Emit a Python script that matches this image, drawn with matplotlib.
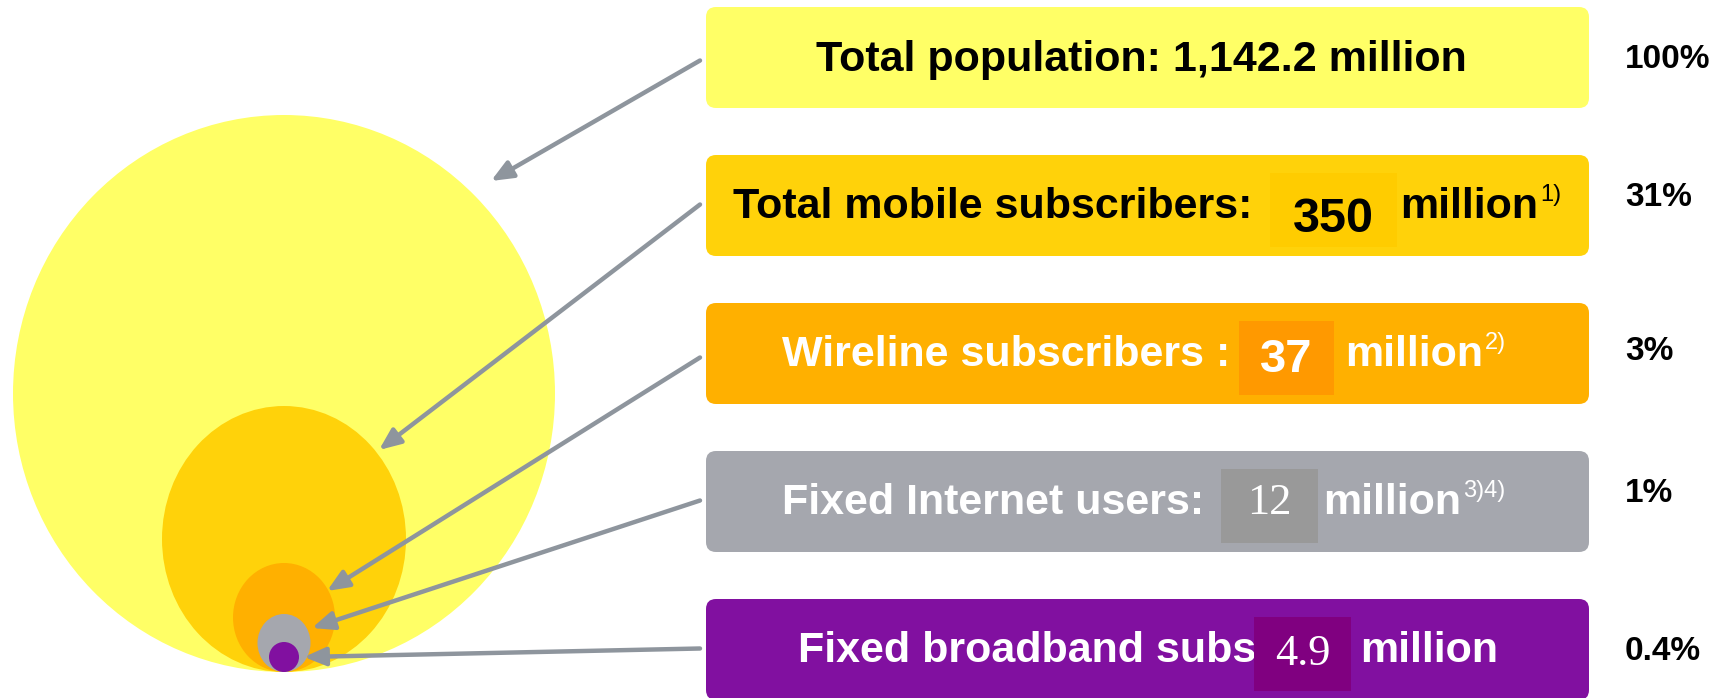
import matplotlib
matplotlib.use("Agg")
import matplotlib.pyplot as plt
from matplotlib.patches import Ellipse, FancyBboxPatch, Rectangle

# ---------------- data ----------------
categories = ["Total population", "Total mobile subscribers", "Wireline subscribers",
              "Fixed Internet users", "Fixed broadband subscribers"]
label_prefix = ["Total population: ", "Total mobile subscribers: ", "Wireline subscribers : ",
                "Fixed Internet users: ", "Fixed broadband subs"]
values_million = [1142.2, 350, 37, 12, 4.9]
share_labels = ["100%", "31%", "3%", "1%", "0.4%"]
footnotes = ["", "1)", "2)", "3)4)", ""]
# bubble sizes (width, height in px)
bubble_w = [542, 244, 102, 53, 30]
bubble_h = [557, 266, 109, 58, 30]

# ---------------- style ----------------
box_colors = ["#FFFF66", "#FFD20A", "#FFB000", "#A5A7AE", "#8110A0"]
hl_colors = [None, "#FFCC00", "#FF9900", "#999999", "#800080"]
text_colors = ["black", "black", "white", "white", "white"]
value_font = [None, "Liberation Sans", "Liberation Sans", "Liberation Serif", "Liberation Serif"]
value_weight = [None, "bold", "bold", "normal", "normal"]
value_fs = [None, 35, 34, 32, 32]
value_dy = [None, 7, 0, -5, -2]
pct_dy = [0, -10, -5, -11, 0]
arrow_color = "#8E959D"

W, H = 1722, 698
fig = plt.figure(figsize=(W / 100, H / 100), dpi=100)
ax = fig.add_axes([0, 0, 1, 1])
ax.set_xlim(0, W)
ax.set_ylim(H, 0)
ax.axis("off")

# layout
bub_cx, bub_bottom = 284, 672
box_left, box_right = 706, 1589
box_top0, box_pitch, box_h = 7, 148, 101
pct_x = 1625
prefix_x = [816, 733, 782, 782, 798]
hl_x = [None, 1270, 1239, 1221, 1254]
hl_w = [None, 127, 95, 97, 97]
million_x = [None, 1400, 1345, 1323, 1360]
arrow_tips = [(491, 181), (379, 450), (327, 591), (312, 628), (304, 657)]
arrow_start_dy = [3, -1, 4, -1, -1]

# bubbles
for i in range(len(values_million)):
    e = Ellipse((bub_cx, bub_bottom - bubble_h[i] / 2), bubble_w[i], bubble_h[i],
                facecolor=box_colors[i], edgecolor="none", zorder=1 + i)
    ax.add_patch(e)

fs = 31
for i, (cat, v) in enumerate(zip(categories, values_million)):
    top = box_top0 + i * box_pitch
    yc = top + box_h / 2
    ax.add_patch(FancyBboxPatch((box_left, top), box_right - box_left, box_h,
                                boxstyle="round,pad=0,rounding_size=10",
                                facecolor=box_colors[i], edgecolor="none", zorder=2))
    base = yc + 13
    vlabel = f"{v:,g}"
    if i == 0:
        ax.text(prefix_x[i], base, label_prefix[i] + vlabel + " million", fontsize=fs,
                fontweight="bold", family="Liberation Sans", color=text_colors[i],
                ha="left", va="baseline", zorder=5)
    else:
        ax.text(prefix_x[i], base, label_prefix[i], fontsize=fs, fontweight="bold",
                family="Liberation Sans", color=text_colors[i], ha="left",
                va="baseline", zorder=5)
        hy0, hy1 = top + 18, top + 92
        ax.add_patch(Rectangle((hl_x[i], hy0), hl_w[i], hy1 - hy0,
                               facecolor=hl_colors[i], edgecolor="none", zorder=6))
        ax.text(hl_x[i] + hl_w[i] / 2, (hy0 + hy1) / 2 + 2 + value_dy[i], vlabel,
                fontsize=value_fs[i], fontweight=value_weight[i], family=value_font[i],
                color=text_colors[i], ha="center", va="center", zorder=7)
        t = ax.text(million_x[i], base, "million", fontsize=fs, fontweight="bold",
                    family="Liberation Sans", color=text_colors[i], ha="left",
                    va="baseline", zorder=5)
        if footnotes[i]:
            fig.canvas.draw()
            bb = t.get_window_extent()
            x_end = ax.transData.inverted().transform((bb.x1, bb.y0))[0]
            ax.text(x_end + 2, base - 18, footnotes[i], fontsize=17,
                    family="Liberation Sans", color=text_colors[i], ha="left",
                    va="baseline", zorder=5)
    # percent
    ax.text(pct_x, base - 2 + pct_dy[i], share_labels[i], fontsize=24, fontweight="bold",
            family="Liberation Sans", color="black", ha="left", va="baseline")
    # arrow
    sx, sy = box_left - 6, yc + arrow_start_dy[i]
    ax.annotate("", xy=arrow_tips[i], xytext=(sx, sy),
                arrowprops=dict(arrowstyle="-|>,head_length=1.3,head_width=0.55",
                                color=arrow_color, lw=3.2, shrinkA=0, shrinkB=0),
                zorder=10)

fig.savefig("out.png", dpi=100)
